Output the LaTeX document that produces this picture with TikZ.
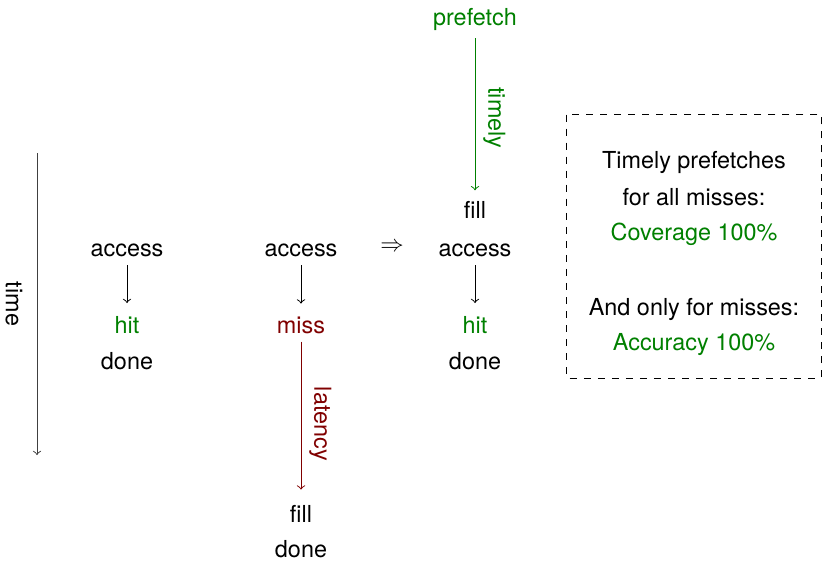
\documentclass[tikz,border=0pt]{standalone}
\usepackage{fontspec}
\setmainfont{TeX Gyre Heros}
\usepackage{amsmath}

\definecolor{okgreen}{rgb}{0,0.5,0}
\definecolor{missred}{rgb}{0.5,0,0}

\begin{document}
\begin{tikzpicture}[x=0.4274pt,y=-0.4274pt,
  ev/.style={anchor=base},
  good/.style={ev,text=okgreen},
  bad/.style={ev,text=missred},
  side/.style={rotate=-90}]
\useasboundingbox (0,0) rectangle (823,560);

% time axis
\coordinate (ttop) at (37,153);
\coordinate (tbot) at (37,455);
\draw[->,black!75] (ttop) -- (tbot);
\node[side] (time) at (14,304) {time};

% hit
\node[ev] (acca) at (127,256.5) {access};
\node[good] (hita) at (127,333) {hit};
\node[ev] (donea) at (127,369) {done};
\draw[->,shorten >=2pt] (acca) -- (hita);

% miss
\node[ev] (accb) at (301,256.5) {access};
\node[bad] (missb) at (301,333) {miss};
\node[ev] (fillb) at (301,522) {fill};
\node[ev] (doneb) at (301,557) {done};
\draw[->,shorten >=2pt] (accb) -- (missb);
\draw[->,missred,shorten >=3pt] (missb) -- node[side,anchor=south,xshift=2pt] (lat) {latency} (fillb);

\node (impl) at (392,247) {$\Rightarrow$};

% prefetched
\node[good] (pref) at (475,25) {prefetch};
\node[ev] (fillc) at (475,218) {fill};
\node[ev] (accc) at (475,256.5) {access};
\node[good] (hitc) at (475,333) {hit};
\node[ev] (donec) at (475,369) {done};
\draw[->,okgreen,shorten >=1pt] (pref) -- node[side,anchor=south,xshift=1pt] (timely) {timely} (fillc);
\draw[->,shorten >=2pt] (accc) -- (hitc);

% summary
\coordinate (boxnw) at (566.5,114.5);
\coordinate (boxse) at (821.5,378);
\draw[dashed] (boxnw) rectangle (boxse);
\node[ev] (sa) at (694,168) {Timely prefetches};
\node[ev] (sb) at (694,205) {for all misses:};
\node[good] (sc) at (694,240) {Coverage 100\%};
\node[ev] (sd) at (694,315) {And only for misses:};
\node[good] (se) at (694,350) {Accuracy 100\%};
\end{tikzpicture}
\end{document}
